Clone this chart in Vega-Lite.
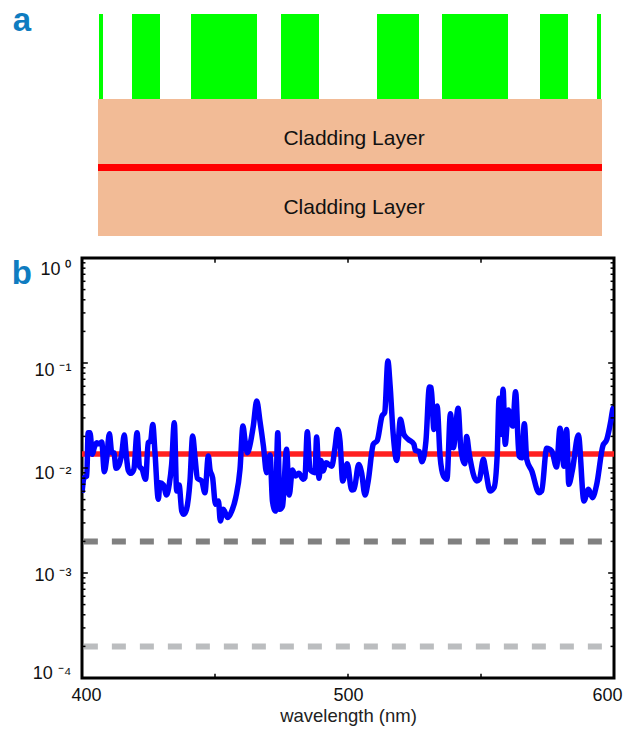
{"$schema":"https://vega.github.io/schema/vega-lite/v6.json","padding":{"left":10,"top":5,"right":0,"bottom":0},"background":"white","spacing":19,"config":{"view":{"stroke":null},"font":"Liberation Sans"},"datasets":{"spectrum":[{"w":400,"r":0.00582},{"w":400.8,"r":0.00809},{"w":401.8,"r":0.00839},{"w":402.3,"r":0.0217},{"w":403.0,"r":0.0217},{"w":403.9,"r":0.0135},{"w":404.6,"r":0.0156},{"w":405.5,"r":0.0174},{"w":406.5,"r":0.017},{"w":407.4,"r":0.0177},{"w":408.4,"r":0.00923},{"w":409.3,"r":0.0125},{"w":410.3,"r":0.0212},{"w":411.2,"r":0.014},{"w":412.0,"r":0.014},{"w":412.8,"r":0.00993},{"w":413.7,"r":0.0104},{"w":414.9,"r":0.0135},{"w":415.9,"r":0.0206},{"w":416.5,"r":0.0145},{"w":417.4,"r":0.0095},{"w":418.4,"r":0.00889},{"w":419.5,"r":0.00971},{"w":420.7,"r":0.0217},{"w":421.6,"r":0.0104},{"w":422.6,"r":0.00971},{"w":423.9,"r":0.0078},{"w":424.9,"r":0.0174},{"w":425.8,"r":0.0181},{"w":426.6,"r":0.026},{"w":427.4,"r":0.0145},{"w":428.7,"r":0.00503},{"w":429.3,"r":0.00725},{"w":430.6,"r":0.00689},{"w":431.8,"r":0.00553},{"w":432.8,"r":0.00699},{"w":433.7,"r":0.0108},{"w":434.7,"r":0.027},{"w":435.6,"r":0.00604},{"w":436.5,"r":0.00689},{"w":437.5,"r":0.00389},{"w":438.3,"r":0.00362},{"w":439.3,"r":0.00404},{"w":440.6,"r":0.00752},{"w":441.6,"r":0.0202},{"w":442.5,"r":0.0125},{"w":443.4,"r":0.00797},{"w":445.0,"r":0.00752},{"w":446.2,"r":0.00582},{"w":447.5,"r":0.013},{"w":448.1,"r":0.00971},{"w":449.1,"r":0.00809},{"w":450.2,"r":0.00451},{"w":451.3,"r":0.00485},{"w":452.0,"r":0.00313},{"w":453.1,"r":0.00404},{"w":454.8,"r":0.00337},{"w":456.3,"r":0.00389},{"w":457.8,"r":0.00522},{"w":459.4,"r":0.00971},{"w":460.5,"r":0.0251},{"w":461.3,"r":0.0181},{"w":462.2,"r":0.014},{"w":463.2,"r":0.0168},{"w":464.4,"r":0.0251},{"w":465.7,"r":0.0435},{"w":466.9,"r":0.028},{"w":468.2,"r":0.0162},{"w":469.4,"r":0.00903},{"w":470.7,"r":0.0133},{"w":471.6,"r":0.00485},{"w":472.7,"r":0.00389},{"w":473.6,"r":0.0217},{"w":474.4,"r":0.00404},{"w":475.4,"r":0.00435},{"w":476.9,"r":0.0151},{"w":477.9,"r":0.00553},{"w":479.1,"r":0.00957},{"w":480.2,"r":0.00839},{"w":481.5,"r":0.00889},{"w":483.2,"r":0.0078},{"w":483.8,"r":0.00809},{"w":484.7,"r":0.0222},{"w":485.7,"r":0.00971},{"w":487.6,"r":0.00903},{"w":488.2,"r":0.0197},{"w":489.1,"r":0.00797},{"w":489.8,"r":0.0118},{"w":490.7,"r":0.00936},{"w":491.7,"r":0.0112},{"w":493.9,"r":0.0104},{"w":495.1,"r":0.0156},{"w":496.1,"r":0.0233},{"w":497.0,"r":0.0181},{"w":498.0,"r":0.00752},{"w":499.7,"r":0.011},{"w":501.4,"r":0.00617},{"w":502.3,"r":0.00627},{"w":504.0,"r":0.0108},{"w":505.1,"r":0.00903},{"w":506.4,"r":0.00553},{"w":507.6,"r":0.00752},{"w":509.5,"r":0.0168},{"w":511.0,"r":0.0183},{"w":512.8,"r":0.0313},{"w":513.8,"r":0.0337},{"w":515.0,"r":0.1045},{"w":515.8,"r":0.0626},{"w":517.0,"r":0.0209},{"w":518.3,"r":0.0118},{"w":519.7,"r":0.0291},{"w":521.0,"r":0.0209},{"w":522.7,"r":0.0187},{"w":524.8,"r":0.0168},{"w":525.3,"r":0.0147},{"w":526.8,"r":0.0143},{"w":527.8,"r":0.0115},{"w":529.3,"r":0.0181},{"w":530.6,"r":0.0591},{"w":531.3,"r":0.0582},{"w":532.3,"r":0.0233},{"w":533.5,"r":0.039},{"w":534.6,"r":0.013},{"w":535.9,"r":0.00839},{"w":537.2,"r":0.0078},{"w":538.5,"r":0.0329},{"w":539.6,"r":0.0156},{"w":541.4,"r":0.037},{"w":542.4,"r":0.0156},{"w":543.9,"r":0.011},{"w":544.6,"r":0.0199},{"w":545.6,"r":0.0135},{"w":548.4,"r":0.00752},{"w":549.4,"r":0.0078},{"w":550.9,"r":0.0121},{"w":551.8,"r":0.00936},{"w":553.4,"r":0.00604},{"w":554.9,"r":0.0065},{"w":556.1,"r":0.0135},{"w":556.8,"r":0.0461},{"w":557.6,"r":0.0209},{"w":558.3,"r":0.0561},{"w":559.1,"r":0.0168},{"w":560.3,"r":0.0357},{"w":561.9,"r":0.0251},{"w":563.0,"r":0.0533},{"w":564.3,"r":0.013},{"w":565.3,"r":0.0125},{"w":566.3,"r":0.0264},{"w":567.2,"r":0.0121},{"w":569.1,"r":0.00936},{"w":571.8,"r":0.00582},{"w":572.8,"r":0.00604},{"w":574.7,"r":0.0154},{"w":576.6,"r":0.0145},{"w":578.4,"r":0.0102},{"w":579.7,"r":0.0239},{"w":581.2,"r":0.0104},{"w":582.2,"r":0.0233},{"w":583.0,"r":0.00699},{"w":584.3,"r":0.00936},{"w":586.6,"r":0.0206},{"w":588.7,"r":0.00485},{"w":590.4,"r":0.00627},{"w":591.9,"r":0.00522},{"w":593.5,"r":0.00699},{"w":595.8,"r":0.0162},{"w":597.3,"r":0.0187},{"w":598.8,"r":0.028},{"w":599.6,"r":0.0367},{"w":600,"r":0.038}],"levels":[{"w":400,"r":0.0136,"level":"mean"},{"w":600,"r":0.0136,"level":"mean"}],"yticks":[{"v":1,"major":1},{"v":0.9},{"v":0.8},{"v":0.7},{"v":0.6},{"v":0.5},{"v":0.4},{"v":0.3},{"v":0.2},{"v":0.1,"major":1},{"v":0.09},{"v":0.08},{"v":0.07},{"v":0.06},{"v":0.05},{"v":0.04},{"v":0.03},{"v":0.02},{"v":0.01,"major":1},{"v":0.009},{"v":0.008},{"v":0.007},{"v":0.006},{"v":0.005},{"v":0.004},{"v":0.003},{"v":0.002},{"v":0.001,"major":1},{"v":0.0009},{"v":0.0008},{"v":0.0007},{"v":0.0006},{"v":0.0005},{"v":0.0004},{"v":0.0003},{"v":0.0002},{"v":0.0001,"major":1}]},"vconcat":[{"width":532,"height":222,"data":{"values":[{"x0":17,"x1":21,"y0":0,"y1":85,"part":"grating"},{"x0":50,"x1":78,"y0":0,"y1":85,"part":"grating"},{"x0":109,"x1":175,"y0":0,"y1":85,"part":"grating"},{"x0":199,"x1":237,"y0":0,"y1":85,"part":"grating"},{"x0":295,"x1":337,"y0":0,"y1":85,"part":"grating"},{"x0":360,"x1":426,"y0":0,"y1":85,"part":"grating"},{"x0":458,"x1":486,"y0":0,"y1":85,"part":"grating"},{"x0":515,"x1":519,"y0":0,"y1":85,"part":"grating"},{"x0":16,"x1":520,"y0":85,"y1":150,"part":"cladding"},{"x0":16,"x1":520,"y0":157,"y1":222,"part":"cladding"},{"x0":16,"x1":520,"y0":150,"y1":157,"part":"core"}]},"layer":[{"mark":{"type":"rect"},"encoding":{"x":{"field":"x0","type":"quantitative","scale":{"domain":[0,532],"nice":false},"axis":null},"x2":{"field":"x1"},"y":{"field":"y0","type":"quantitative","scale":{"domain":[222,0],"nice":false},"axis":null},"y2":{"field":"y1"},"color":{"field":"part","type":"nominal","legend":null,"scale":{"domain":["grating","cladding","core"],"range":["#00ff00","#f2bb96","#ff0000"]}}}},{"data":{"values":[{"x":272,"y":125,"t":"Cladding Layer"},{"x":272,"y":194,"t":"Cladding Layer"}]},"mark":{"type":"text","fontSize":21,"color":"#111111","font":"Liberation Sans"},"encoding":{"x":{"field":"x","type":"quantitative"},"y":{"field":"y","type":"quantitative"},"text":{"field":"t"}}},{"data":{"values":[{"x":-60,"y":7,"t":"a"}]},"mark":{"type":"text","fontSize":33,"fontWeight":"bold","color":"#0f7cc0","font":"Liberation Sans"},"encoding":{"x":{"field":"x","type":"quantitative"},"y":{"field":"y","type":"quantitative"},"text":{"field":"t"}}}]},{"width":532,"height":420,"view":{"stroke":"black","strokeWidth":3},"layer":[{"data":{"name":"levels"},"mark":{"type":"line","color":"#ff2020","strokeWidth":5.5,"clip":true},"encoding":{"x":{"field":"w","type":"quantitative","scale":{"domain":[400,600],"nice":false},"axis":{"values":[400,500,600],"title":"wavelength (nm)","titleFontSize":18.5,"titleFontWeight":"normal","titleColor":"#222222","titlePadding":2,"labelFontSize":18,"labelColor":"#111111","ticks":false,"domain":false,"grid":false,"labelPadding":8,"labelFlush":false,"labelBound":false,"labelOffset":{"condition":[{"test":"datum.value==400","value":4},{"test":"datum.value==600","value":-7}],"value":0}}},"y":{"field":"r","type":"quantitative","scale":{"type":"log","domain":[0.0001,1],"nice":false},"axis":{"values":[1,0.1,0.01,0.001,0.0001],"title":null,"ticks":false,"domain":false,"grid":false,"labelFontSize":18,"labelColor":"#111111","labelPadding":11,"labelBound":false,"labelOffset":{"condition":[{"test":"datum.value==1","value":11},{"test":"datum.value==0.1","value":7},{"test":"datum.value==0.01","value":5},{"test":"datum.value==0.001","value":2}],"value":-5},"labelExpr":"datum.value==1?'10 ⁰':datum.value==0.1?'10 ⁻¹':datum.value==0.01?'10 ⁻²':datum.value==0.001?'10 ⁻³':'10 ⁻⁴'"}}}},{"data":{"values":[{"w":400.7,"r":0.002},{"w":600,"r":0.002}]},"mark":{"type":"line","color":"#808080","strokeWidth":6,"strokeDash":[14,14]},"encoding":{"x":{"field":"w","type":"quantitative"},"y":{"field":"r","type":"quantitative"}}},{"data":{"values":[{"w":400.7,"r":0.0002},{"w":600,"r":0.0002}]},"mark":{"type":"line","color":"#bbbdbf","strokeWidth":6,"strokeDash":[14,14]},"encoding":{"x":{"field":"w","type":"quantitative"},"y":{"field":"r","type":"quantitative"}}},{"data":{"name":"spectrum"},"mark":{"type":"line","color":"#0000ff","strokeWidth":5.5,"strokeJoin":"round","interpolate":"monotone","clip":true},"encoding":{"x":{"field":"w","type":"quantitative"},"y":{"field":"r","type":"quantitative"}}},{"data":{"name":"yticks"},"transform":[{"filter":"datum.major==1"}],"mark":{"type":"rule","color":"black","strokeWidth":1.5},"encoding":{"y":{"field":"v","type":"quantitative"},"x":{"datum":400},"x2":{"datum":402.2}}},{"data":{"name":"yticks"},"transform":[{"filter":"datum.major!=1"}],"mark":{"type":"rule","color":"black","strokeWidth":1.5},"encoding":{"y":{"field":"v","type":"quantitative"},"x":{"datum":400},"x2":{"datum":401.3}}},{"data":{"name":"yticks"},"transform":[{"filter":"datum.major==1"}],"mark":{"type":"rule","color":"black","strokeWidth":1.5},"encoding":{"y":{"field":"v","type":"quantitative"},"x":{"datum":597.8},"x2":{"datum":600}}},{"data":{"name":"yticks"},"transform":[{"filter":"datum.major!=1"}],"mark":{"type":"rule","color":"black","strokeWidth":1.5},"encoding":{"y":{"field":"v","type":"quantitative"},"x":{"datum":598.7},"x2":{"datum":600}}},{"data":{"values":[{"w":450},{"w":500},{"w":550}]},"mark":{"type":"rule","color":"black","strokeWidth":1.5},"encoding":{"x":{"field":"w","type":"quantitative"},"y":{"datum":1},"y2":{"datum":0.9}}},{"data":{"values":[{"w":450},{"w":500},{"w":550}]},"mark":{"type":"rule","color":"black","strokeWidth":1.5},"encoding":{"x":{"field":"w","type":"quantitative"},"y":{"datum":0.00011},"y2":{"datum":0.0001}}},{"data":{"values":[{"w":377.4,"r":0.7,"t":"b"}]},"mark":{"type":"text","fontSize":33,"fontWeight":"bold","color":"#0f7cc0","font":"Liberation Sans"},"encoding":{"x":{"field":"w","type":"quantitative"},"y":{"field":"r","type":"quantitative"},"text":{"field":"t"}}}]}]}
